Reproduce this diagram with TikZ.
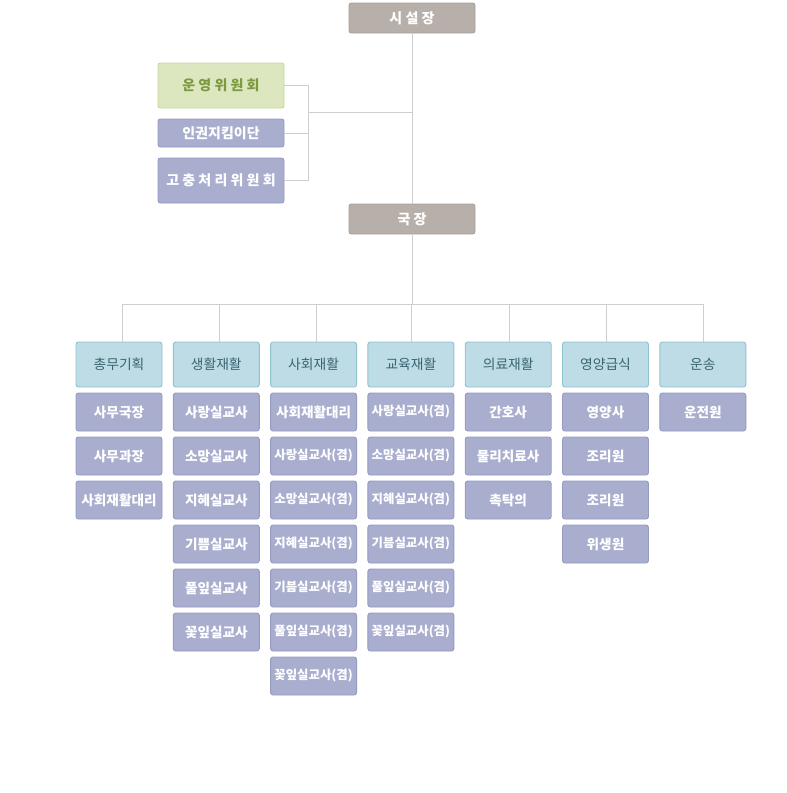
\documentclass[tikz,border=0pt]{standalone}
\usepackage{fontspec}
\setmainfont{Noto Sans CJK KR}
\usepackage{xcolor}
\usetikzlibrary{positioning}

\definecolor{titlefill}{HTML}{B7AFAA}
\definecolor{titledraw}{HTML}{A79F9A}
\definecolor{greenfill}{HTML}{DDE7BF}
\definecolor{greendraw}{HTML}{C3D79B}
\definecolor{greentext}{HTML}{7C9A40}
\definecolor{deptfill}{HTML}{BDDCE5}
\definecolor{deptdraw}{HTML}{8FC2CE}
\definecolor{depttext}{HTML}{3A6470}
\definecolor{stafffill}{HTML}{A9AECF}
\definecolor{staffdraw}{HTML}{959AC4}
\definecolor{linecol}{HTML}{CDCDD2}

\begin{document}
\begin{tikzpicture}[
        x=1pt, y=-1pt,
        node distance=5.1pt and 10.4pt,
        box/.style={rectangle, draw, rounded corners=2.5pt, line width=0.9pt,
                    inner sep=0.5pt, align=center},
        head/.style={box, fill=titlefill, draw=titledraw, text=white,
                     minimum width=126pt, minimum height=30pt,
                     font=\fontsize{14}{15}\selectfont\bfseries},
        board/.style={box, fill=greenfill, draw=greendraw, text=greentext,
                      minimum width=126pt, minimum height=45pt,
                      font=\fontsize{14}{15}\selectfont\bfseries},
        side/.style={box, fill=stafffill, draw=staffdraw, text=white,
                     minimum width=126pt, minimum height=28pt,
                     font=\fontsize{14}{15}\selectfont\bfseries},
        dept/.style={box, fill=deptfill, draw=deptdraw, text=depttext,
                     minimum width=86pt, minimum height=45pt,
                     font=\fontsize{13.8}{15}\selectfont},
        staff/.style={box, fill=stafffill, draw=staffdraw, text=white,
                      minimum width=86pt, minimum height=38pt,
                      font=\fontsize{13.6}{15}\selectfont\bfseries},
        dual/.style={staff, font=\fontsize{12.4}{15}\selectfont\bfseries},
        link/.style={draw=linecol, line width=0.9pt},
    ]
        \useasboundingbox (0,0) rectangle (787,793);

        % Top
        \node[head] (boss) at (412,18) {시 설 장};
        \node[head] (chief) at (412,219) {국 장};

        % Committees
        \node[board] (council) at (221,85.5) {운 영 위 원 회};
        \node[side] (rights) at (221,133) {인권지킴이단};
        \node[side, minimum height=45pt] (grievance) at (221,180.5) {고 충 처 리 위 원 회};

        % Departments
        \node[dept] (gen) at (119,364.5) {총무기획};
        \node[dept, right=of gen] (life) {생활재활};
        \node[dept, right=of life] (soc) {사회재활};
        \node[dept, right=of soc] (edu) {교육재활};
        \node[dept, right=of edu] (med) {의료재활};
        \node[dept, right=of med] (food) {영양급식};
        \node[dept, right=of food] (bus) {운송};

        % Staff: general affairs
        \node[staff, below=of gen] (gen1) {사무국장};
        \node[staff, below=of gen1] (gen2) {사무과장};
        \node[staff, below=of gen2] (gen3) {사회재활대리};

        % Staff: daily living
        \node[staff, below=of life] (life1) {사랑실교사};
        \node[staff, below=of life1] (life2) {소망실교사};
        \node[staff, below=of life2] (life3) {지혜실교사};
        \node[staff, below=of life3] (life4) {기쁨실교사};
        \node[staff, below=of life4] (life5) {풀잎실교사};
        \node[staff, below=of life5] (life6) {꽃잎실교사};

        % Staff: social
        \node[staff, below=of soc] (soc1) {사회재활대리};
        \node[dual, below=of soc1] (soc2) {사랑실교사(겸)};
        \node[dual, below=of soc2] (soc3) {소망실교사(겸)};
        \node[dual, below=of soc3] (soc4) {지혜실교사(겸)};
        \node[dual, below=of soc4] (soc5) {기븜실교사(겸)};
        \node[dual, below=of soc5] (soc6) {풀잎실교사(겸)};
        \node[dual, below=of soc6] (soc7) {꽃잎실교사(겸)};

        % Staff: education
        \node[dual, below=of edu] (edu1) {사랑실교사(겸)};
        \node[dual, below=of edu1] (edu2) {소망실교사(겸)};
        \node[dual, below=of edu2] (edu3) {지혜실교사(겸)};
        \node[dual, below=of edu3] (edu4) {기븜실교사(겸)};
        \node[dual, below=of edu4] (edu5) {풀잎실교사(겸)};
        \node[dual, below=of edu5] (edu6) {꽃잎실교사(겸)};

        % Staff: medical
        \node[staff, below=of med] (med1) {간호사};
        \node[staff, below=of med1] (med2) {물리치료사};
        \node[staff, below=of med2] (med3) {촉탁의};

        % Staff: meals
        \node[staff, below=of food] (food1) {영양사};
        \node[staff, below=of food1] (food2) {조리원};
        \node[staff, below=of food2] (food3) {조리원};
        \node[staff, below=of food3] (food4) {위생원};

        % Staff: transport
        \node[staff, below=of bus] (bus1) {운전원};

        % Lines
        \coordinate (join) at (308,112.5);
        \coordinate (hub) at (412,304);
        \draw[link] (boss) -- (chief);
        \draw[link] (council.east) -| (join);
        \draw[link] (grievance.east) -| (join);
        \draw[link] (rights.east) -- (rights.east -| join);
        \draw[link] (join) -- (join -| boss);
        \draw[link] (chief) -- (hub);
        \draw[link] ([xshift=3pt]gen.north) |- (hub);
        \draw[link] ([xshift=3pt]life.north) |- (hub);
        \draw[link] ([xshift=3pt]soc.north) |- (hub);
        \draw[link] ([xshift=1pt]edu.north) |- (hub);
        \draw[link] ([xshift=1pt]med.north) |- (hub);
        \draw[link] ([xshift=1pt]food.north) |- (hub);
        \draw[link] ([xshift=1pt]bus.north) |- (hub);
    \end{tikzpicture}
\end{document}
